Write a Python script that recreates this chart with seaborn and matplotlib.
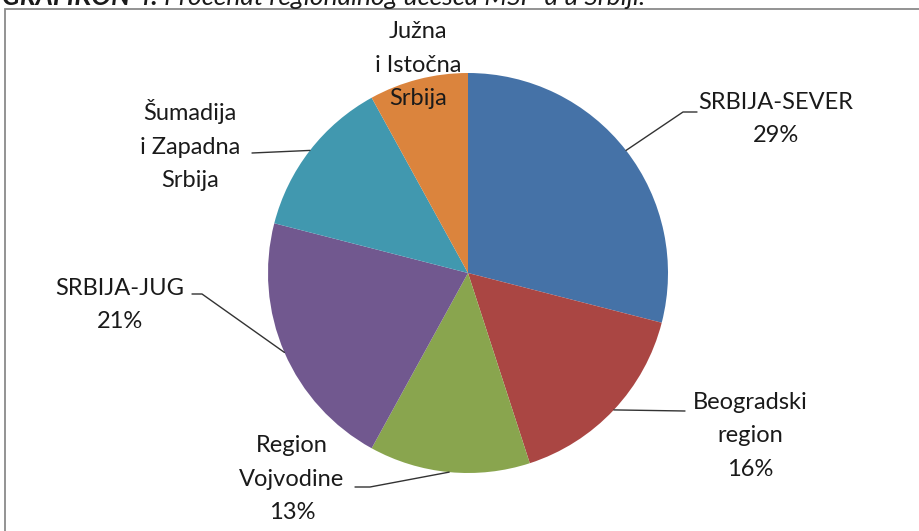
import numpy as np
import seaborn as sns
import matplotlib.pyplot as plt
from matplotlib.patches import Rectangle

# data
regions = ['SRBIJA-SEVER', 'Beogradski region', 'Region Vojvodine', 'SRBIJA-JUG',
           'Šumadija i Zapadna Srbija', 'Južna i Istočna Srbija']
shares = [29, 16, 13, 21, 13, 8]
label_texts = ['SRBIJA-SEVER\n29%', 'Beogradski\nregion\n16%', 'Region\nVojvodine\n13%',
               'SRBIJA-JUG\n21%', 'Šumadija\ni Zapadna\nSrbija', 'Južna\ni Istočna\nSrbija']
colors = ['#4572A7', '#AA4643', '#89A54E', '#71588F', '#4198AF', '#DB843D']

sns.set_theme(style="white")
plt.rcParams['font.family'] = ['Lato', 'DejaVu Sans']

W, H = 920, 531
fig = plt.figure(figsize=(9.2, 5.31), dpi=100)
ax = fig.add_axes([0, 0, 1, 1])

cx, cy, r = 468, H - 273, 200
wedges, _ = ax.pie(shares, colors=colors, startangle=90, counterclock=False,
                   center=(cx, cy), radius=r, frame=True,
                   wedgeprops=dict(linewidth=0))
ax.set_xlim(0, W)
ax.set_ylim(0, H)
ax.axis('off')

# label positions (pixel coords from top-left) and leader line elbows
label_pos = [(776, 119), (750, 436), (292, 479), (120, 305), (190, 145), (418, 65)]
elbows = [[(683, 112), (697, 112)],
          [(685, 411)],
          [(370, 487), (355, 487)],
          [(202, 294), (192, 294)],
          [(252, 153)],
          None]

for w, txt, (lx, ly), elb in zip(wedges, label_texts, label_pos, elbows):
    ax.text(lx, H - ly, txt, ha='center', va='center', fontsize=17,
            color='#1a1a1a', linespacing=1.72, multialignment='center')
    if elb is None:
        continue
    mid = np.deg2rad((w.theta1 + w.theta2) / 2)
    px = [cx + r * np.cos(mid)] + [p[0] for p in elb]
    py = [cy + r * np.sin(mid)] + [H - p[1] for p in elb]
    ax.plot(px, py, color='#333333', lw=1.0)

# frame of the original figure box (only top and left visible)
ax.add_patch(Rectangle((5, -20), 1000, H - 9 + 20, fill=False,
                       edgecolor='#8a8a8a', lw=1.3, clip_on=False))

# cut-off caption above the box (the reference crops it at the top edge)
t1 = fig.text(2 / W, 1 - 5 / H, 'GRAFIKON 4:', fontsize=19, fontweight='bold',
              fontstyle='italic', va='baseline', ha='left', color='#1a1a1a')
fig.canvas.draw()
bb = t1.get_window_extent()
fig.text(bb.x1 / W, 1 - 5 / H, ' Procenat regionalnog učešća MSP-a u Srbiji.', fontsize=19,
         fontstyle='italic', va='baseline', ha='left', color='#1a1a1a')

plt.savefig('out.png', dpi=100)
